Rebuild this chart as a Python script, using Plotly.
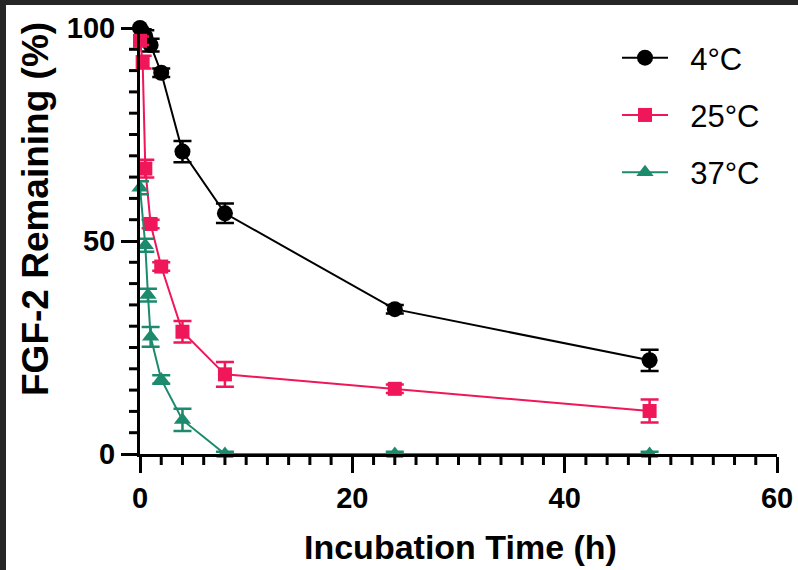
import plotly.graph_objects as go

# Incubation times (h) and FGF-2 remaining (%) with SEM, per temperature
time_4c = [0, 0.25, 0.5, 1, 2, 4, 8, 24, 48]
rem_4c = [100, 99, 98, 96, 89.5, 71, 56.5, 34, 22]
err_4c = [1, 1, 1.5, 1.5, 1, 2.5, 2.3, 1, 2.5]

time_25c = [0, 0.25, 0.5, 1, 2, 4, 8, 24, 48]
rem_25c = [97, 92, 67, 54, 44, 28.7, 18.7, 15.3, 10.1]
err_25c = [1, 1.5, 2.1, 1, 1, 2.5, 2.9, 1, 2.7]

time_37c = [0, 0.5, 0.75, 1, 2, 4, 8, 24, 48]
rem_37c = [62.5, 49, 37.3, 27.5, 17.5, 8, 0, 0, 0]
err_37c = [1.5, 1.5, 1.5, 2.3, 1, 2.6, 0.5, 0.5, 0.5]

series_names = ["4°C", "25°C", "37°C"]
x_range = [0, 60]
y_range = [0, 100]
x_major, x_minor = 20, 2
y_major, y_minor = 50, 5

FONT = "Arial, Liberation Sans, Helvetica, sans-serif"
BLACK = "#000000"
PINK = "#EF1659"
GREEN = "#1C8A6C"

W, H = 798, 570
L, R, T, B = 140, 21, 28, 116
PW, PH = W - L - R, H - T - B


def px_to_paper_x(px):
    return (px - L) / PW


def px_to_paper_y(py):
    return (H - B - py) / PH


fig = go.Figure()

specs = [
    (time_4c, rem_4c, err_4c, BLACK, "circle", 16),
    (time_25c, rem_25c, err_25c, PINK, "square", 14),
    (time_37c, rem_37c, err_37c, GREEN, "triangle-up", 15),
]
for i, (t, v, e, color, symbol, size) in enumerate(specs):
    fig.add_trace(go.Scatter(
        x=t, y=v, name="\u00a0\u00a0" + series_names[i], mode="lines+markers",
        legendgroup=f"g{i}",
        line=dict(color=color, width=2),
        marker=dict(color=color, symbol=symbol, size=size, line=dict(width=0)),
        error_y=dict(type="data", array=e, visible=True, color=color,
                     thickness=2.5, width=9),
        cliponaxis=False,
    ))

axis_common = dict(
    ticks="outside", ticklen=16, tickwidth=3,
    tickcolor="black", showline=True, linewidth=3, linecolor="black",
    showgrid=False, zeroline=False, automargin=False,
    tickfont=dict(family=FONT, size=29, color="black", weight="bold"),
)
fig.update_xaxes(range=x_range, dtick=x_major, **axis_common)
fig.update_yaxes(range=y_range, dtick=y_major, **axis_common)

annotations = [
    dict(text="Incubation Time (h)", xref="paper", yref="paper",
         x=px_to_paper_x(460), y=px_to_paper_y(547), showarrow=False,
         xanchor="center", yanchor="middle",
         font=dict(family=FONT, size=34, color="black", weight="bold")),
    dict(text="FGF-2 Remaining (%)", xref="paper", yref="paper",
         x=px_to_paper_x(35), y=px_to_paper_y(209), showarrow=False,
         textangle=-90, xanchor="center", yanchor="middle",
         font=dict(family=FONT, size=37, color="black", weight="bold")),
]

shapes = []

# minor tick marks between the major ticks, outside both axes
MINOR_LEN = 11
tick_line = dict(color="black", width=3)
v = x_range[0]
while v <= x_range[1]:
    if v % x_major:
        fx = (v - x_range[0]) / (x_range[1] - x_range[0])
        shapes.append(dict(type="line", xref="paper", yref="paper",
                           x0=fx, x1=fx, y0=0, y1=-MINOR_LEN / PH,
                           line=tick_line, layer="above"))
    v += x_minor
v = y_range[0]
while v <= y_range[1]:
    if v % y_major:
        fy = (v - y_range[0]) / (y_range[1] - y_range[0])
        shapes.append(dict(type="line", xref="paper", yref="paper",
                           x0=0, x1=-MINOR_LEN / PW, y0=fy, y1=fy,
                           line=tick_line, layer="above"))
    v += y_minor

# dark frame along the top and left edges
frame = "#262626"
shapes += [
    dict(type="rect", xref="paper", yref="paper", layer="above",
         x0=px_to_paper_x(0), x1=px_to_paper_x(6),
         y0=px_to_paper_y(H), y1=px_to_paper_y(0),
         fillcolor=frame, line=dict(width=0)),
    dict(type="rect", xref="paper", yref="paper", layer="above",
         x0=px_to_paper_x(0), x1=px_to_paper_x(W),
         y0=px_to_paper_y(5), y1=px_to_paper_y(0),
         fillcolor=frame, line=dict(width=0)),
]

fig.update_layout(
    width=W, height=H,
    margin=dict(l=L, r=R, t=T, b=B, pad=0, autoexpand=False),
    paper_bgcolor="white", plot_bgcolor="white",
    showlegend=True,
    legend=dict(
        x=px_to_paper_x(617), y=px_to_paper_y(31), xanchor="left", yanchor="top",
        font=dict(family=FONT, size=31, color="black"),
        bgcolor="rgba(0,0,0,0)", traceorder="grouped", tracegroupgap=14,
        itemwidth=46,
    ),
    annotations=annotations,
    shapes=shapes,
)

fig.write_html("out.html")
